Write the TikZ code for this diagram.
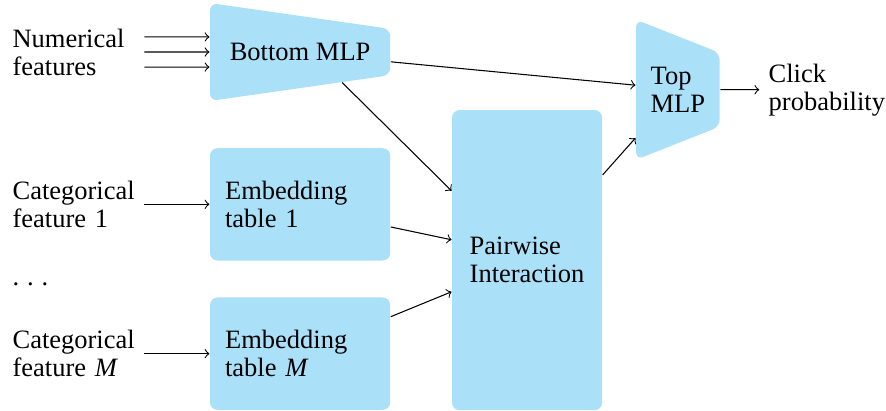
\documentclass[tikz,border=0pt]{standalone}
\usepackage{fontspec}
\setmainfont{Liberation Serif}
\usetikzlibrary{shapes.geometric}
\definecolor{boxblue}{RGB}{171,224,249}
\tikzset{
  blk/.style={fill=boxblue,rounded corners=0.1cm,inner sep=0pt},
  mlp/.style={blk,trapezium,shape border rotate=270,trapezium stretches=true},
  lbl/.style={anchor=west,inner sep=0pt,text width=1.74cm,align=left}
}
\begin{document}
\begin{tikzpicture}[font=\fontsize{10}{10.6}\selectfont]
  \useasboundingbox (0,0) rectangle (11.75,-5.44);
  \node (bmlp) at (3.98,-0.69) [mlp,trapezium angle=86,minimum width=1.3cm,minimum height=2.39cm] {Bottom MLP};
  \node (emb1) at (3.98,-2.71) [blk,minimum width=2.39cm,minimum height=1.49cm,text width=1.99cm,align=left] {Embedding\\table 1};
  \node (embM) at (3.98,-4.69) [blk,minimum width=2.39cm,minimum height=1.49cm,text width=1.99cm,align=left] {Embedding\\table \textit{M}};
  \node (pw) at (6.99,-3.45) [blk,minimum width=1.99cm,minimum height=3.98cm,align=left] {Pairwise\\Interaction};
  \node (tmlp) at (8.99,-1.19) [mlp,trapezium angle=69.5,minimum width=1.86cm,minimum height=1.11cm,align=left] {Top\\MLP};
  \node (num) at (0.16,-0.69) [lbl] {Numerical\\features};
  \node (cat1) at (0.16,-2.71) [lbl] {Categorical\\feature 1};
  \node (dots) at (0.16,-3.77) [anchor=west,inner sep=0pt] {.\kern3pt.\kern3pt.};
  \node (catM) at (0.16,-4.69) [lbl] {Categorical\\feature \textit{M}};
  \node (click) at (10.07,-1.19) [anchor=west,align=left] {Click\\probability};
  \foreach \dy in {0.2,0,-0.2}
    \draw[->] ([yshift=\dy cm]num.east) -- ([yshift=\dy cm]bmlp.west);
  \draw[->] (cat1) -- (emb1);
  \draw[->] (catM) -- (embM);
  \draw[->] ([yshift=-0.13cm]bmlp.east) -- ([yshift=0.06cm]tmlp.west);
  \draw[->] (bmlp.-36) -- ([yshift=0.92cm]pw.west);
  \draw[->] ([yshift=-0.3cm]emb1.east) -- ([yshift=0.27cm]pw.west);
  \draw[->] ([yshift=0.49cm]embM.east) -- ([yshift=-0.42cm]pw.west);
  \draw[->] ([yshift=1.13cm]pw.east) -- ([yshift=-0.64cm]tmlp.west);
  \draw[->] (tmlp) -- (click);
\end{tikzpicture}
\end{document}
